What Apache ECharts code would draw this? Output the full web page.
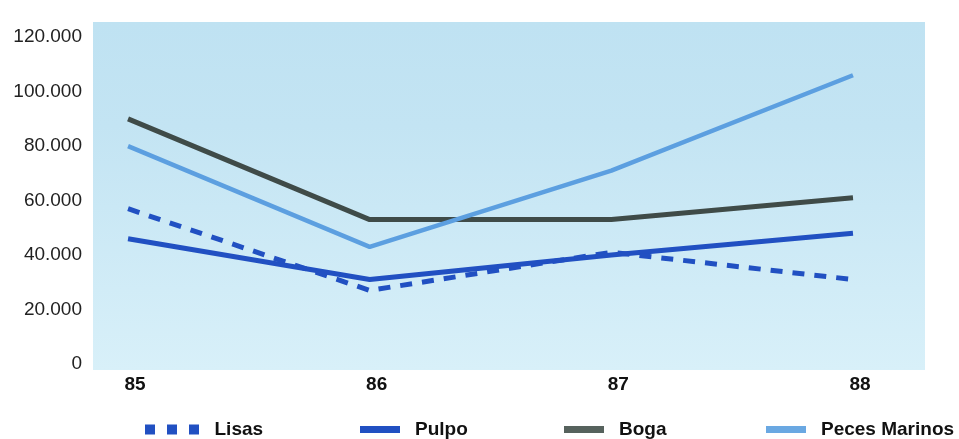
<!DOCTYPE html>
<html><head><meta charset="utf-8">
<script src="https://cdn.jsdelivr.net/npm/echarts@6/dist/echarts.min.js"></script>
<style>html,body{margin:0;padding:0;background:#fff}#c{width:959px;height:439px}</style>
</head><body><div id="c"></div>
<script>
const years = [85, 86, 87, 88];
const yTicks = [0, 20000, 40000, 60000, 80000, 100000, 120000];
const lisas = [57000, 27000, 41000, 31000];
const pulpo = [46000, 31000, 40000, 48000];
const boga = [90000, 53000, 53000, 61000];
const peces = [80000, 43000, 71000, 106000];

const pairs = arr => arr.map((v, i) => [years[i], v]);
const fmt = v => v === 0 ? '0' : String(v).replace(/\B(?=(\d{3})+(?!\d))/g, '.');

const chart = echarts.init(document.getElementById('c'), null, {renderer: 'canvas'});
const textBase = {fontFamily: 'Liberation Sans, Arial, sans-serif', fontWeight: 'bold', fontSize: 19, color: '#111', padding: [0, 0, 0, 10]};
const legendBase = {top: 415, itemHeight: 7, itemWidth: 40, icon: 'rect', textStyle: textBase, selectedMode: false};
chart.setOption({
  animation: false,
  grid: {left: 93, right: 34, top: 22, bottom: 69, show: true, borderWidth: 0,
    backgroundColor: {type: 'linear', x: 0, y: 0, x2: 0, y2: 1, colorStops: [
      {offset: 0, color: '#bfe2f2'}, {offset: 0.3, color: '#c3e4f3'}, {offset: 1, color: '#d8f0f9'}]}},
  xAxis: {type: 'value', min: 84.855, max: 88.298,
    axisLine: {show: false}, axisTick: {show: false}, splitLine: {show: false},
    axisLabel: {customValues: years, margin: 5, padding: [0, 0, 0, 14], fontFamily: 'Liberation Sans, Arial, sans-serif', fontWeight: 'bold', fontSize: 19, color: '#111', formatter: v => String(v)}},
  yAxis: {type: 'value', min: -2222, max: 125556,
    axisLine: {show: false}, axisTick: {show: false}, splitLine: {show: false},
    axisLabel: {customValues: yTicks, margin: 11, fontFamily: 'Liberation Sans, Arial, sans-serif', fontSize: 19, color: '#222', formatter: fmt}},
  legend: [
    Object.assign({}, legendBase, {left: 140, data: ['Lisas'], itemWidth: 55, itemHeight: 10,
      icon: 'path://M0,0h10v10h-10z M22,0h10v10h-10z M44,0h10v10h-10z'}),
    Object.assign({}, legendBase, {left: 355, data: ['Pulpo']}),
    Object.assign({}, legendBase, {left: 559, data: ['Boga']}),
    Object.assign({}, legendBase, {left: 761, data: ['Peces Marinos']})
  ],
  series: [
    {name: 'Boga', type: 'line', data: pairs(boga), symbol: 'none', color: '#56625d', lineStyle: {width: 5, color: '#3f4b48'}},
    {name: 'Peces Marinos', type: 'line', data: pairs(peces), symbol: 'none', color: '#6aa8e2', lineStyle: {width: 4.5, color: '#5c9fe0'}},
    {name: 'Pulpo', type: 'line', data: pairs(pulpo), symbol: 'none', color: '#2150c2', lineStyle: {width: 5, color: '#2150c2'}},
    {name: 'Lisas', type: 'line', data: pairs(lisas), symbol: 'none', color: '#2150c2', lineStyle: {width: 5, color: '#2150c2', type: [12, 10]}}
  ]
});
</script></body></html>
